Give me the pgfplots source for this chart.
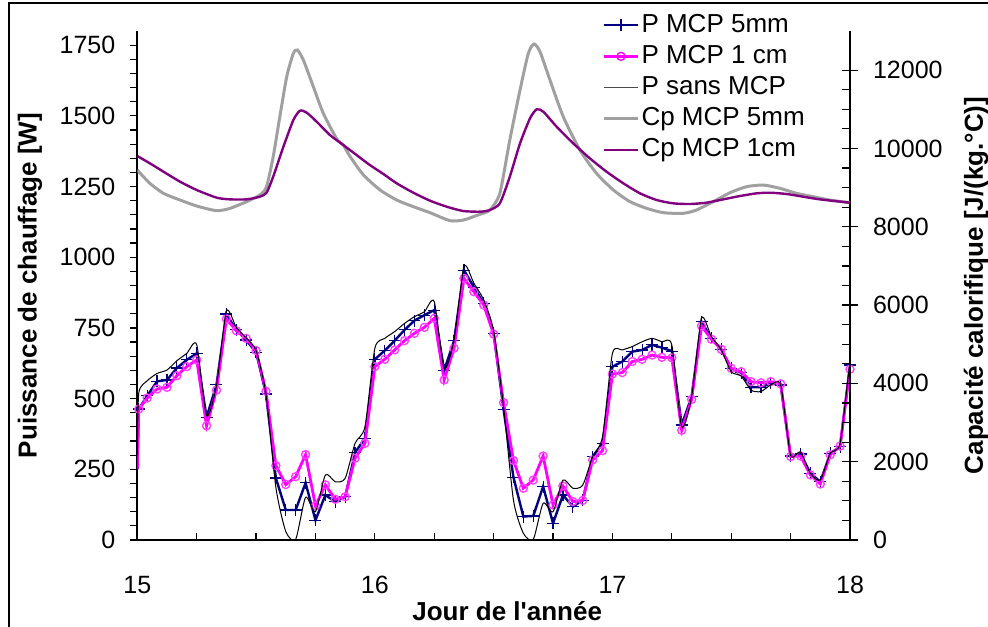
\documentclass[border=0pt]{standalone}
\usepackage{fontspec}
\setmainfont{Liberation Sans}
\usepackage{pgfplots}
\usepackage{pgfplotstable}
\pgfplotsset{compat=1.18}
\definecolor{navyc}{RGB}{0,0,128}
\definecolor{magc}{RGB}{255,0,255}
\definecolor{grayc}{RGB}{160,160,160}
\definecolor{purplec}{RGB}{128,0,128}

\pgfplotstableread{
h w5 w1 w0
0 250 250 300
0.15 463 463 520
1 510 502 563
2 561 534 589
3 566 540 601
4 608 581 634
5 637 613 660
6 660 637 691
7 434 404 440
8 549 530 546
9 799 782 809
10 743 740 752
11 707 713 714
12 664 670 670
13 516 526 516
14 219 263 186
15 106 196 30
16 106 224 2
17 202 302 151
18 70 121 100
19 159 195 230
20 135 144 206
21 153 153 218
22 309 289 342
23 360 342 401
24 639 613 678
25 670 639 713
26 705 672 737
27 743 705 766
28 776 731 790
29 795 752 807
30 813 784 843
31 600 566 607
32 705 678 707
33 954 925 967
34 894 878 908
35 837 831 849
36 731 728 740
37 462 486 472
38 222 281 141
39 83 183 24
40 85 212 2
41 189 297 130
42 59 124 100
43 159 191 212
44 118 136 183
45 141 140 194
46 295 283 295
47 340 316 365
48 613 587 660
49 631 592 672
50 666 631 684
51 672 639 701
52 690 654 713
53 680 646 701
54 668 644 690
55 407 388 401
56 507 497 507
57 772 757 784
58 713 710 719
59 674 674 672
60 607 607 595
61 592 595 580
62 540 560 530
63 540 556 525
64 554 560 548
65 548 552 548
66 297 295 301
67 304 297 312
68 236 230 236
69 206 198 212
70 306 301 306
71 330 332 342
72 619 604 625
72.6 640 625 645
}\ptable

\pgfplotstableread{
d cp
15.000 9449
15.053 9109
15.110 8854
15.180 8683
15.250 8530
15.334 8411
15.390 8470
15.460 8641
15.516 8811
15.544 9024
15.572 9790
15.600 10812
15.629 11833
15.657 12429
15.674 12514
15.699 12259
15.741 11578
15.783 10897
15.839 10250
15.867 10088
15.895 9800
15.951 9330
16.022 8939
16.092 8683
16.162 8513
16.232 8360
16.316 8156
16.372 8172
16.443 8320
16.484 8428
16.526 8854
16.568 10216
16.611 11493
16.646 12429
16.670 12667
16.695 12472
16.737 11748
16.793 10812
16.863 9960
16.933 9364
17.004 8939
17.074 8641
17.144 8470
17.214 8360
17.298 8343
17.354 8428
17.424 8641
17.495 8870
17.565 9024
17.635 9066
17.705 8981
17.775 8854
17.845 8768
17.915 8683
18.000 8615
}\cpA

\pgfplotstableread{
d cp
15.000 9807
15.053 9620
15.110 9407
15.180 9151
15.250 8939
15.334 8743
15.390 8700
15.460 8700
15.516 8768
15.544 8870
15.572 9279
15.615 10045
15.657 10727
15.685 10965
15.713 10914
15.755 10684
15.811 10343
15.867 10088
15.923 9832
15.979 9577
16.036 9347
16.092 9109
16.162 8870
16.232 8666
16.302 8513
16.372 8402
16.443 8385
16.484 8428
16.526 8598
16.568 9279
16.611 10130
16.653 10769
16.681 10999
16.709 10939
16.765 10556
16.835 10130
16.905 9747
16.975 9407
17.046 9109
17.116 8854
17.186 8683
17.256 8598
17.326 8581
17.396 8615
17.466 8700
17.537 8785
17.607 8854
17.663 8870
17.733 8837
17.803 8768
17.873 8700
18.000 8615
}\cpB

\begin{document}
\begin{tikzpicture}
\useasboundingbox (-68.65pt,-43pt) rectangle (425.35pt,270pt);
\begin{axis}[
  at={(0,0)}, anchor=south west,
  scale only axis, width=356.35pt, height=254.5pt,
  xmin=15, xmax=18, ymin=0, ymax=1800,
  axis y line*=left, axis x line*=bottom,
  xtick={15,16,17,18}, minor x tick num=3,
  ytick={0,250,...,1750}, minor y tick num=4,
  xtick align=inside, ytick align=outside,
  major tick length=3.5pt, minor tick length=3.5pt,
  tick style={black, line width=0.6pt},
  axis line style={black, line width=0.8pt},
  clip mode=individual,
  /pgf/number format/assume math mode=true,
  /pgf/number format/1000 sep={},
  tick label style={font=\fontsize{12.5}{14}\selectfont},
  xticklabel style={anchor=center, yshift=-22.5pt},
  yticklabel style={xshift=-4pt},
  ylabel={\bfseries Puissance de chauffage [W]},
  ylabel style={at={(axis description cs:-0.1506,0.5)}, anchor=center, font=\fontsize{13}{15}\selectfont},
  xlabel={\bfseries Jour de l\textquotesingle ann\'ee},
  xlabel style={at={(axis description cs:0.519,-0.1395)}, anchor=center, font=\fontsize{13}{15}\selectfont},
]
\addplot[navyc, line width=1.2pt, mark=+, mark size=3pt, mark options={line width=0.6pt}, mark phase=2, mark repeat=1]
  table[x expr=15+\thisrow{h}/24, y=w5] {\ptable};
\addplot[magc, line width=1.4pt, mark=o, mark size=2pt, mark options={line width=0.7pt, draw=magc!75}, mark phase=2, mark repeat=1]
  table[x expr=15+\thisrow{h}/24, y=w1] {\ptable};
\addplot[black, line width=0.5pt, smooth, tension=0.4]
  table[x expr=15+\thisrow{h}/24, y=w0] {\ptable};
\end{axis}
\begin{axis}[
  at={(0,0)}, anchor=south west,
  scale only axis, width=356.35pt, height=254.5pt,
  xmin=15, xmax=18, ymin=0, ymax=13000,
  axis y line*=right, axis x line=none,
  ytick={0,2000,...,12000}, minor y tick num=3,
  scaled y ticks=false,
  ytick align=center, major tick length=8pt, minor tick length=4pt,
  every minor y tick/.append style={xshift=-2pt},
  tick style={black, line width=0.6pt},
  axis line style={black, line width=0.8pt},
  /pgf/number format/assume math mode=true,
  /pgf/number format/1000 sep={},
  tick label style={font=\fontsize{12.5}{14}\selectfont},
  yticklabel style={xshift=4pt},
  ylabel={\bfseries Capacit\'e calorifique [J/(kg.°C)]},
  ylabel style={at={(axis description cs:1.177,0.5)}, anchor=center, font=\fontsize{13}{15}\selectfont},
  legend cell align=left,
  legend style={at={(axis description cs:0.652,1.043)}, anchor=north west, draw=none, fill=none,
    font=\fontsize{13}{15}\selectfont, inner sep=0pt, row sep=0pt,
    nodes={inner sep=1pt, text height=10.3pt, text depth=3.3pt}},
]
\addlegendimage{navyc, line width=1.2pt, mark=+, mark size=3pt, mark options={line width=0.6pt}}
\addlegendentry{P MCP 5mm}
\addlegendimage{magc, line width=1.4pt, mark=o, mark size=2pt, mark options={line width=0.7pt}}
\addlegendentry{P MCP 1 cm}
\addlegendimage{black!70, line width=0.5pt}
\addlegendentry{P sans MCP}
\addplot[grayc, line width=1.5pt, smooth, tension=0.4] table[x=d, y=cp] {\cpA};
\addlegendentry{Cp MCP 5mm}
\addplot[purplec, line width=1.2pt, smooth, tension=0.4] table[x=d, y=cp] {\cpB};
\addlegendentry{Cp MCP 1cm}
\end{axis}
\draw[line width=1pt] (-64.15pt,-50pt) -- (-64.15pt,268.5pt) -- (440pt,268.5pt);
\end{tikzpicture}
\end{document}
